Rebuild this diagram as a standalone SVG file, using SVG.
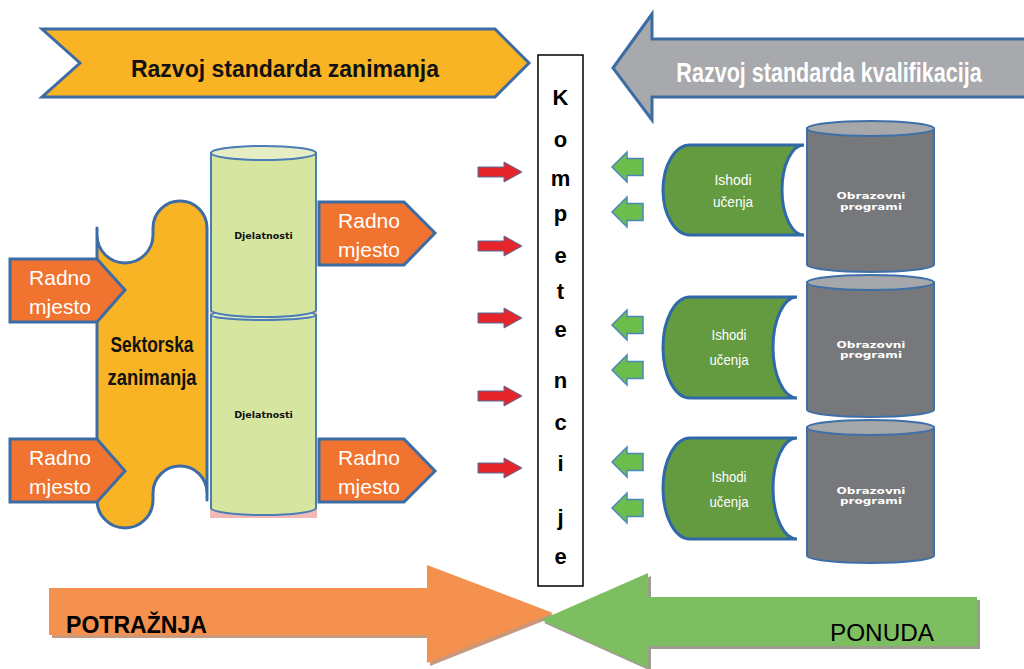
<svg xmlns="http://www.w3.org/2000/svg" width="1024" height="669" viewBox="0 0 1024 669">
<style>
.bs{stroke:#3D6CA4;stroke-width:3;stroke-linejoin:miter}
.radno{fill:#F0732F;stroke:#3D6CA4;stroke-width:3}
.rt{font-family:"Liberation Sans",Arial,sans-serif;font-size:21px;fill:#fff;text-anchor:middle}
.kl{font-family:"Liberation Sans",Arial,sans-serif;font-size:22px;font-weight:bold;fill:#000;text-anchor:middle}
.ish{fill:#649A40;stroke:#2F69A8;stroke-width:3}
.ist{font-family:"Liberation Sans",Arial,sans-serif;font-size:15px;fill:#fff;text-anchor:middle}
.cylb{fill:#76787B;stroke:#3F6FA8;stroke-width:2}
.cylt{fill:#A5A7AA;stroke:#3F6FA8;stroke-width:2}
.obt{font-family:"DejaVu Sans",sans-serif;font-size:8.5px;font-weight:bold;fill:#fff;text-anchor:middle}
.djb{fill:#D6E5A0;stroke:#4A7CB8;stroke-width:2}
.djt{fill:#E4EDC4;stroke:#4A7CB8;stroke-width:2}
.djtx{font-family:"DejaVu Sans",sans-serif;font-size:9.5px;font-weight:bold;fill:#111;text-anchor:middle}
.red{fill:#E5252A;stroke:#4F6FA3;stroke-width:1}
.grn{fill:#6CBD4C;stroke:#4A87B8;stroke-width:1.5}
</style>

<!-- Top-left chevron -->
<g id="razvoj-zanimanja">
  <polygon class="bs" fill="#F9B425" points="42,29 495,29 529,63 495,97 42,97 80,63"/>
  <text x="285" y="77" font-family="Liberation Sans, Arial, sans-serif" font-size="23" font-weight="bold" fill="#111" text-anchor="middle">Razvoj standarda zanimanja</text>
</g>

<!-- Top-right gray arrow -->
<g id="razvoj-kvalifikacija">
  <polygon class="bs" fill="#A7A9AC" points="613,68 652,14 652,39 1030,39 1030,97 652,97 652,120"/>
  <text transform="translate(829,82) scale(0.77,1)" x="0" y="0" font-family="Liberation Sans, Arial, sans-serif" font-size="28" font-weight="bold" fill="#fff" text-anchor="middle">Razvoj standarda kvalifikacija</text>
</g>

<!-- Kompetencije -->
<g id="kompetencije">
  <rect x="538" y="55" width="45" height="531" fill="#fff" stroke="#000" stroke-width="1.5"/>
  <text class="kl" x="560.5" y="105">K</text>
  <text class="kl" x="560.5" y="147">o</text>
  <text class="kl" x="560.5" y="186">m</text>
  <text class="kl" x="560.5" y="221">p</text>
  <text class="kl" x="560.5" y="263">e</text>
  <text class="kl" x="560.5" y="299">t</text>
  <text class="kl" x="560.5" y="337">e</text>
  <text class="kl" x="560.5" y="388">n</text>
  <text class="kl" x="560.5" y="430">c</text>
  <text class="kl" x="560.5" y="471">i</text>
  <text class="kl" x="560.5" y="525">j</text>
  <text class="kl" x="560.5" y="564">e</text>
</g>

<!-- Sektorska zanimanja puzzle piece -->
<g id="sektorska-zanimanja">
  <path d="M97,228 L97,235 A28,28 0 0 0 153,235 L153,228 A27,27 0 0 1 207,228 L207,500 L207,493 A27,27 0 0 0 153,493 L153,500 A28,28 0 0 1 97,500 Z" fill="#F9B426" stroke="#3D6CA4" stroke-width="3" stroke-linejoin="round"/>
  <text x="152" y="352" font-family="Liberation Sans, Arial, sans-serif" font-size="22" font-weight="bold" fill="#111" text-anchor="middle" textLength="83" lengthAdjust="spacingAndGlyphs">Sektorska</text>
  <text x="152" y="385" font-family="Liberation Sans, Arial, sans-serif" font-size="22" font-weight="bold" fill="#111" text-anchor="middle" textLength="89" lengthAdjust="spacingAndGlyphs">zanimanja</text>
</g>

<!-- Djelatnosti cylinders -->
<g id="djelatnosti">
  <rect x="210" y="300" width="107" height="218" fill="#F2B8B8"/>
  <path class="djb" d="M211,315 L211,508 A52.5,7 0 0 0 316,508 L316,315 Z"/>
  <ellipse class="djt" cx="263.5" cy="315" rx="52.5" ry="5"/>
  <path class="djb" d="M211,153 L211,310 A52.5,7 0 0 0 316,310 L316,153 Z"/>
  <ellipse class="djt" cx="263.5" cy="153" rx="52.5" ry="7"/>
  <text class="djtx" x="263.5" y="239">Djelatnosti</text>
  <text class="djtx" x="263.5" y="418">Djelatnosti</text>
</g>

<!-- Radno mjesto arrows -->
<g id="radno-mjesto-1">
  <polygon class="radno" points="10,259 97,259 125,290 97,322 10,322"/>
  <text class="rt" x="60" y="285">Radno</text>
  <text class="rt" x="60" y="314">mjesto</text>
</g>
<g id="radno-mjesto-2">
  <polygon class="radno" points="10,439 97,439 125,471 97,502 10,502"/>
  <text class="rt" x="60" y="465">Radno</text>
  <text class="rt" x="60" y="494">mjesto</text>
</g>
<g id="radno-mjesto-3">
  <polygon class="radno" points="319,202 404,202 435,233 404,265 319,265"/>
  <text class="rt" x="369" y="228">Radno</text>
  <text class="rt" x="369" y="257">mjesto</text>
</g>
<g id="radno-mjesto-4">
  <polygon class="radno" points="319,439 404,439 435,471 404,502 319,502"/>
  <text class="rt" x="369" y="465">Radno</text>
  <text class="rt" x="369" y="494">mjesto</text>
</g>

<!-- Obrazovni programi cylinders -->
<g id="obrazovni-1">
  <path class="cylb" d="M807,128.5 L807,264.5 A63.5,7.5 0 0 0 934,264.5 L934,128.5 Z"/>
  <ellipse class="cylt" cx="870.5" cy="128.5" rx="63.5" ry="7.5"/>
  <text class="obt" x="871" y="199" textLength="69" lengthAdjust="spacingAndGlyphs">Obrazovni</text>
  <text class="obt" x="871" y="210" textLength="62" lengthAdjust="spacingAndGlyphs">programi</text>
</g>
<g id="obrazovni-2">
  <path class="cylb" d="M807,282.5 L807,409.5 A63.5,7.5 0 0 0 934,409.5 L934,282.5 Z"/>
  <ellipse class="cylt" cx="870.5" cy="282.5" rx="63.5" ry="7.5"/>
  <text class="obt" x="871" y="348" textLength="69" lengthAdjust="spacingAndGlyphs">Obrazovni</text>
  <text class="obt" x="871" y="358" textLength="62" lengthAdjust="spacingAndGlyphs">programi</text>
</g>
<g id="obrazovni-3">
  <path class="cylb" d="M807,427.5 L807,555.5 A63.5,7.5 0 0 0 934,555.5 L934,427.5 Z"/>
  <ellipse class="cylt" cx="870.5" cy="427.5" rx="63.5" ry="7.5"/>
  <text class="obt" x="871" y="494" textLength="69" lengthAdjust="spacingAndGlyphs">Obrazovni</text>
  <text class="obt" x="871" y="504" textLength="62" lengthAdjust="spacingAndGlyphs">programi</text>
</g>

<!-- Ishodi ucenja -->
<g id="ishodi-1">
  <path class="ish" d="M804,145 L690,145 A27,45 0 0 0 690,235 L804,235 A22,45 0 0 1 804,145 Z"/>
  <text class="ist" x="733" y="185" textLength="37" lengthAdjust="spacingAndGlyphs">Ishodi</text>
  <text class="ist" x="733" y="207" textLength="40" lengthAdjust="spacingAndGlyphs">učenja</text>
</g>
<g id="ishodi-2">
  <path class="ish" d="M797,297 L690,297 A27,50.5 0 0 0 690,398 L797,398 A24,50.5 0 0 1 797,297 Z"/>
  <text class="ist" x="729" y="340" textLength="35" lengthAdjust="spacingAndGlyphs">Ishodi</text>
  <text class="ist" x="729" y="365" textLength="39" lengthAdjust="spacingAndGlyphs">učenja</text>
</g>
<g id="ishodi-3">
  <path class="ish" d="M797,438 L690,438 A27,50.5 0 0 0 690,539 L797,539 A24,50.5 0 0 1 797,438 Z"/>
  <text class="ist" x="729" y="482" textLength="35" lengthAdjust="spacingAndGlyphs">Ishodi</text>
  <text class="ist" x="729" y="507" textLength="39" lengthAdjust="spacingAndGlyphs">učenja</text>
</g>

<!-- Connectors: small arrows -->
<g id="connectors">
  <polygon class="red" points="478,167 504,167 504,162 522,172 504,182 504,177 478,177"/>
  <polygon class="red" points="478,241 504,241 504,236 522,246 504,256 504,251 478,251"/>
  <polygon class="red" points="478,313 504,313 504,308 522,318 504,328 504,323 478,323"/>
  <polygon class="red" points="478,391 504,391 504,386 522,396 504,406 504,401 478,401"/>
  <polygon class="red" points="478,463 504,463 504,458 522,468 504,478 504,473 478,473"/>
  <polygon class="grn" points="612,167 627,152 627,158.5 643,158.5 643,175.5 627,175.5 627,182"/>
  <polygon class="grn" points="612,212 627,197 627,203.5 643,203.5 643,220.5 627,220.5 627,227"/>
  <polygon class="grn" points="612,325 627,310 627,316.5 643,316.5 643,333.5 627,333.5 627,340"/>
  <polygon class="grn" points="612,370 627,355 627,361.5 643,361.5 643,378.5 627,378.5 627,385"/>
  <polygon class="grn" points="612,462 627,447 627,453.5 643,453.5 643,470.5 627,470.5 627,477"/>
  <polygon class="grn" points="612,508 627,493 627,499.5 643,499.5 643,516.5 627,516.5 627,523"/>
</g>

<!-- Bottom arrows -->
<g id="potraznja">
  <polygon fill="#C9977A" points="52,591 430,591 430,568 556,616 430,666 430,638 52,638"/>
  <polygon fill="#F5914F" points="49,588 427,588 427,565 553,613 427,663 427,635 49,635"/>
  <text x="66" y="633" font-family="Liberation Sans, Arial, sans-serif" font-size="23" font-weight="bold" fill="#000" textLength="141" lengthAdjust="spacingAndGlyphs">POTRAŽNJA</text>
</g>
<g id="ponuda">
  <polygon fill="#9C9D8E" points="544,623 651,576 651,600 980,600 980,649 651,649 651,671"/>
  <polygon fill="#7DBE61" points="541,620 648,573 648,597 977,597 977,646 648,646 648,668"/>
  <text x="830" y="641" font-family="Liberation Sans, Arial, sans-serif" font-size="24" fill="#000" textLength="104" lengthAdjust="spacingAndGlyphs">PONUDA</text>
</g>
</svg>
